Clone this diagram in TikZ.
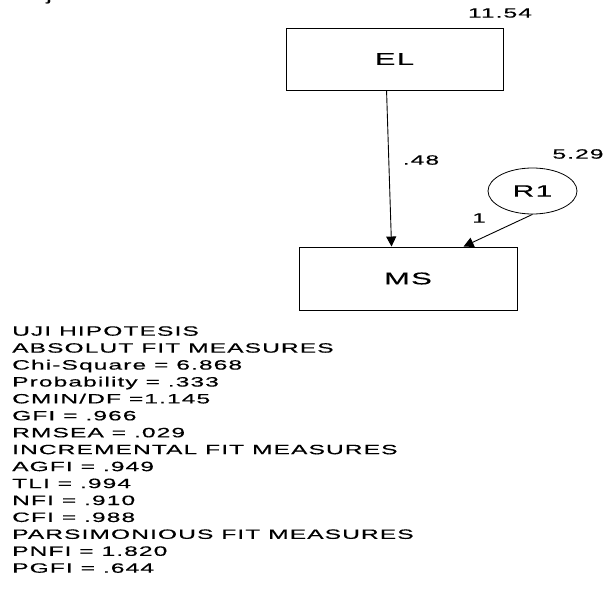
\documentclass[tikz,border=0pt]{standalone}
\usepackage{fontspec}
\setmainfont{Liberation Sans}
\newfontfamily\widefont{Liberation Sans}[FakeStretch=1.82,LetterSpace=8,FakeBold=0.4]
\usetikzlibrary{arrows.meta,shapes.geometric}
\tikzset{
  box/.style={draw=black,line width=0.9pt,inner sep=0pt,minimum width=217pt,minimum height=62pt,font=\widefont\fontsize{17}{19}\selectfont},
  latent/.style={draw=black,line width=0.8pt,ellipse,inner sep=0pt,minimum width=89pt,minimum height=46pt,font=\widefont\fontsize{16.5}{18}\selectfont},
  arr/.style={line width=0.9pt,-{Triangle[length=10pt,width=10pt]}},
  lbl/.style={inner sep=0pt,font=\widefont\fontsize{13.5}{15}\selectfont},
  txt/.style={inner sep=0pt,anchor=base west,font=\widefont\fontsize{13.5}{15}\selectfont}
}
\begin{document}
\begin{tikzpicture}[x=1pt,y=-1pt]
\useasboundingbox[fill=white] (0,0) rectangle (606,594);
\node[txt,font=\widefont\fontsize{14}{16}\selectfont] (cut) at (46,0.6) {j};
\node[box] (EL) at (394.5,59) {EL};
\node[box,minimum width=218pt,minimum height=63pt] (MS) at (408,278.5) {MS};
\node[latent] (R1) at (532.5,191) {R1};
\draw[arr] ([xshift=101pt]EL.south west) -- ([xshift=93pt]MS.north west);
\draw[arr] (R1.south) -- ([xshift=165pt]MS.north west);
\node[lbl] (l48) at (421,160) {.48};
\node[lbl] (l1) at (479,218) {1};
\node[lbl] (v529) at (578,154) {5.29};
\node[lbl] (v1154) at (500,13) {11.54};
\foreach \t [count=\i] in {UJI HIPOTESIS,ABSOLUT FIT MEASURES,Chi-Square = 6.868,Probability = .333,CMIN/DF =1.145,GFI = .966,RMSEA = .029,INCREMENTAL FIT MEASURES,AGFI = .949,TLI = .994,NFI = .910,CFI = .988,PARSIMONIOUS FIT MEASURES,PNFI = 1.820,PGFI = .644}
  \node[txt] (t\i) at (12,{335.7+(\i-1)*16.93}) {\t};
\end{tikzpicture}
\end{document}
